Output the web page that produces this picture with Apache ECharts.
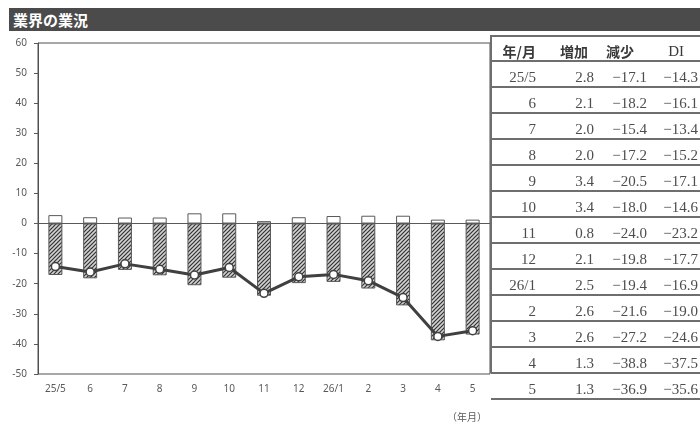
<!DOCTYPE html>
<html><head><meta charset="utf-8">
<script src="https://cdn.jsdelivr.net/npm/echarts@6/dist/echarts.min.js"></script>
<style>
html,body{margin:0;padding:0;background:#fff;width:700px;height:425px;overflow:hidden;}
#chart{position:absolute;left:0;top:0;width:700px;height:425px;}
#title{position:absolute;left:9px;top:8px;width:691px;height:23px;background:#4b4b4b;color:#fff;font:bold 15px "Noto Sans CJK JP";line-height:23px;padding-left:4px;box-sizing:border-box;}
.hl{position:absolute;left:491px;width:209px;height:2px;background:#6e6e6e;}
.vl{position:absolute;left:490px;width:2px;background:#6e6e6e;}
.cell{position:absolute;text-align:right;white-space:nowrap;}
.num{font-family:"Liberation Serif","DejaVu Serif",serif;font-size:15px;color:#4d4d4d;}
.hd{font-family:"Noto Sans CJK JP";font-weight:bold;font-size:14px;color:#3a3a3a;}
.hdi{font-family:"Liberation Serif",serif;font-size:15px;font-weight:normal;color:#3a3a3a;}
#unit{position:absolute;left:447px;top:409px;font:10px "Noto Sans CJK JP";color:#595959;}
</style></head>
<body>
<div id="chart"></div>
<div id="title">業界の業況</div>
<div id="table"></div>
<div id="unit">（年月）</div>
<script>
const months   = ['25/5','6','7','8','9','10','11','12','26/1','2','3','4','5'];
const increase = [2.8, 2.1, 2.0, 2.0, 3.4, 3.4, 0.8, 2.1, 2.5, 2.6, 2.6, 1.3, 1.3];
const decrease = [-17.1, -18.2, -15.4, -17.2, -20.5, -18.0, -24.0, -19.8, -19.4, -21.6, -27.2, -38.8, -36.9];
const di       = [-14.3, -16.1, -13.4, -15.2, -17.1, -14.6, -23.2, -17.7, -16.9, -19.0, -24.6, -37.5, -35.6];
const headers  = ['年/月', '増加', '減少', 'DI'];

// ---- table ----
const tbl = document.getElementById('table');
function add(html){ tbl.insertAdjacentHTML('beforeend', html); }
const fmt = v => (v < 0 ? '\u2212' : '') + Math.abs(v).toFixed(1);
const tableTop = 36, headH = 25, rowH = 26;
add(`<div class="hl" style="top:${tableTop-1}px"></div>`);
add(`<div class="hl" style="top:${tableTop+headH-1}px"></div>`);
add(`<div class="vl" style="top:${tableTop-1}px;height:${373-tableTop+1}px"></div>`);
// header
const hdRight = [536, 588, 634, 684];
headers.forEach((h, j) => {
  const w = 80;
  const cls = j === 3 ? 'cell hdi' : 'cell hd';
  add(`<div class="${cls}" style="left:${hdRight[j]-w}px;width:${w}px;top:${tableTop+3}px;height:${headH}px;line-height:${headH}px">${h}</div>`);
});
const colRight = [536, 594, 647, 698];
months.forEach((m, i) => {
  const top = tableTop + headH + rowH * i;
  const vals = [m, increase[i].toFixed(1), fmt(decrease[i]), fmt(di[i])];
  vals.forEach((v, j) => {
    const w = 60;
    add(`<div class="cell num" style="left:${colRight[j]-w}px;width:${w}px;top:${top+3}px;height:${rowH}px;line-height:${rowH}px">${v}</div>`);
  });
  add(`<div class="hl" style="top:${top+rowH-1}px"></div>`);
});

// ---- hatch pattern ----
const hatch = document.createElement('canvas');
hatch.width = 4; hatch.height = 4;
const c = hatch.getContext('2d');
c.fillStyle = '#d2d2d2'; c.fillRect(0, 0, 4, 4);
c.strokeStyle = '#333'; c.lineWidth = 1.2;
[[-1,5,5,-1],[-1,1,1,-1],[3,5,5,3]].forEach(p => { c.beginPath(); c.moveTo(p[0],p[1]); c.lineTo(p[2],p[3]); c.stroke(); });

// ---- chart ----
const chart = echarts.init(document.getElementById('chart'));
const axisColor = '#595959';
chart.setOption({
  animation: false,
  grid: {left: 38, right: 210, top: 43, bottom: 51, show: true, borderColor: '#505050', borderWidth: 1},
  xAxis: [
    {type: 'category', data: months,
     axisLine: {onZero: true, lineStyle: {color: axisColor}},
     axisTick: {inside: true, length: 3, lineStyle: {color: axisColor}},
     axisLabel: {show: false}},
    {type: 'category', data: months, position: 'bottom',
     axisLine: {show: false, onZero: false}, axisTick: {show: false},
     axisLabel: {color: axisColor, fontSize: 10, margin: 10, fontFamily: 'Noto Sans'}}
  ],
  yAxis: {type: 'value', min: -50, max: 60, interval: 10,
    axisLine: {show: true, lineStyle: {color: '#505050'}},
    axisTick: {show: true, length: 4, lineStyle: {color: axisColor}},
    axisLabel: {color: axisColor, fontSize: 10, margin: 11, fontFamily: 'Noto Sans'},
    splitLine: {show: false}},
  series: [
    {type: 'bar', data: increase, barWidth: 14, barGap: '-100%',
     itemStyle: {color: '#fff', borderColor: '#595959', borderWidth: 1}},
    {type: 'bar', data: decrease, barWidth: 14, barGap: '-100%',
     itemStyle: {color: {image: hatch, repeat: 'repeat'}, borderColor: '#595959', borderWidth: 1}},
    {type: 'line', data: di, z: 5, symbol: 'circle', symbolSize: 8,
     lineStyle: {color: '#404040', width: 3},
     itemStyle: {color: '#fff', borderColor: '#404040', borderWidth: 1.5}}
  ]
});
</script>
</body></html>
